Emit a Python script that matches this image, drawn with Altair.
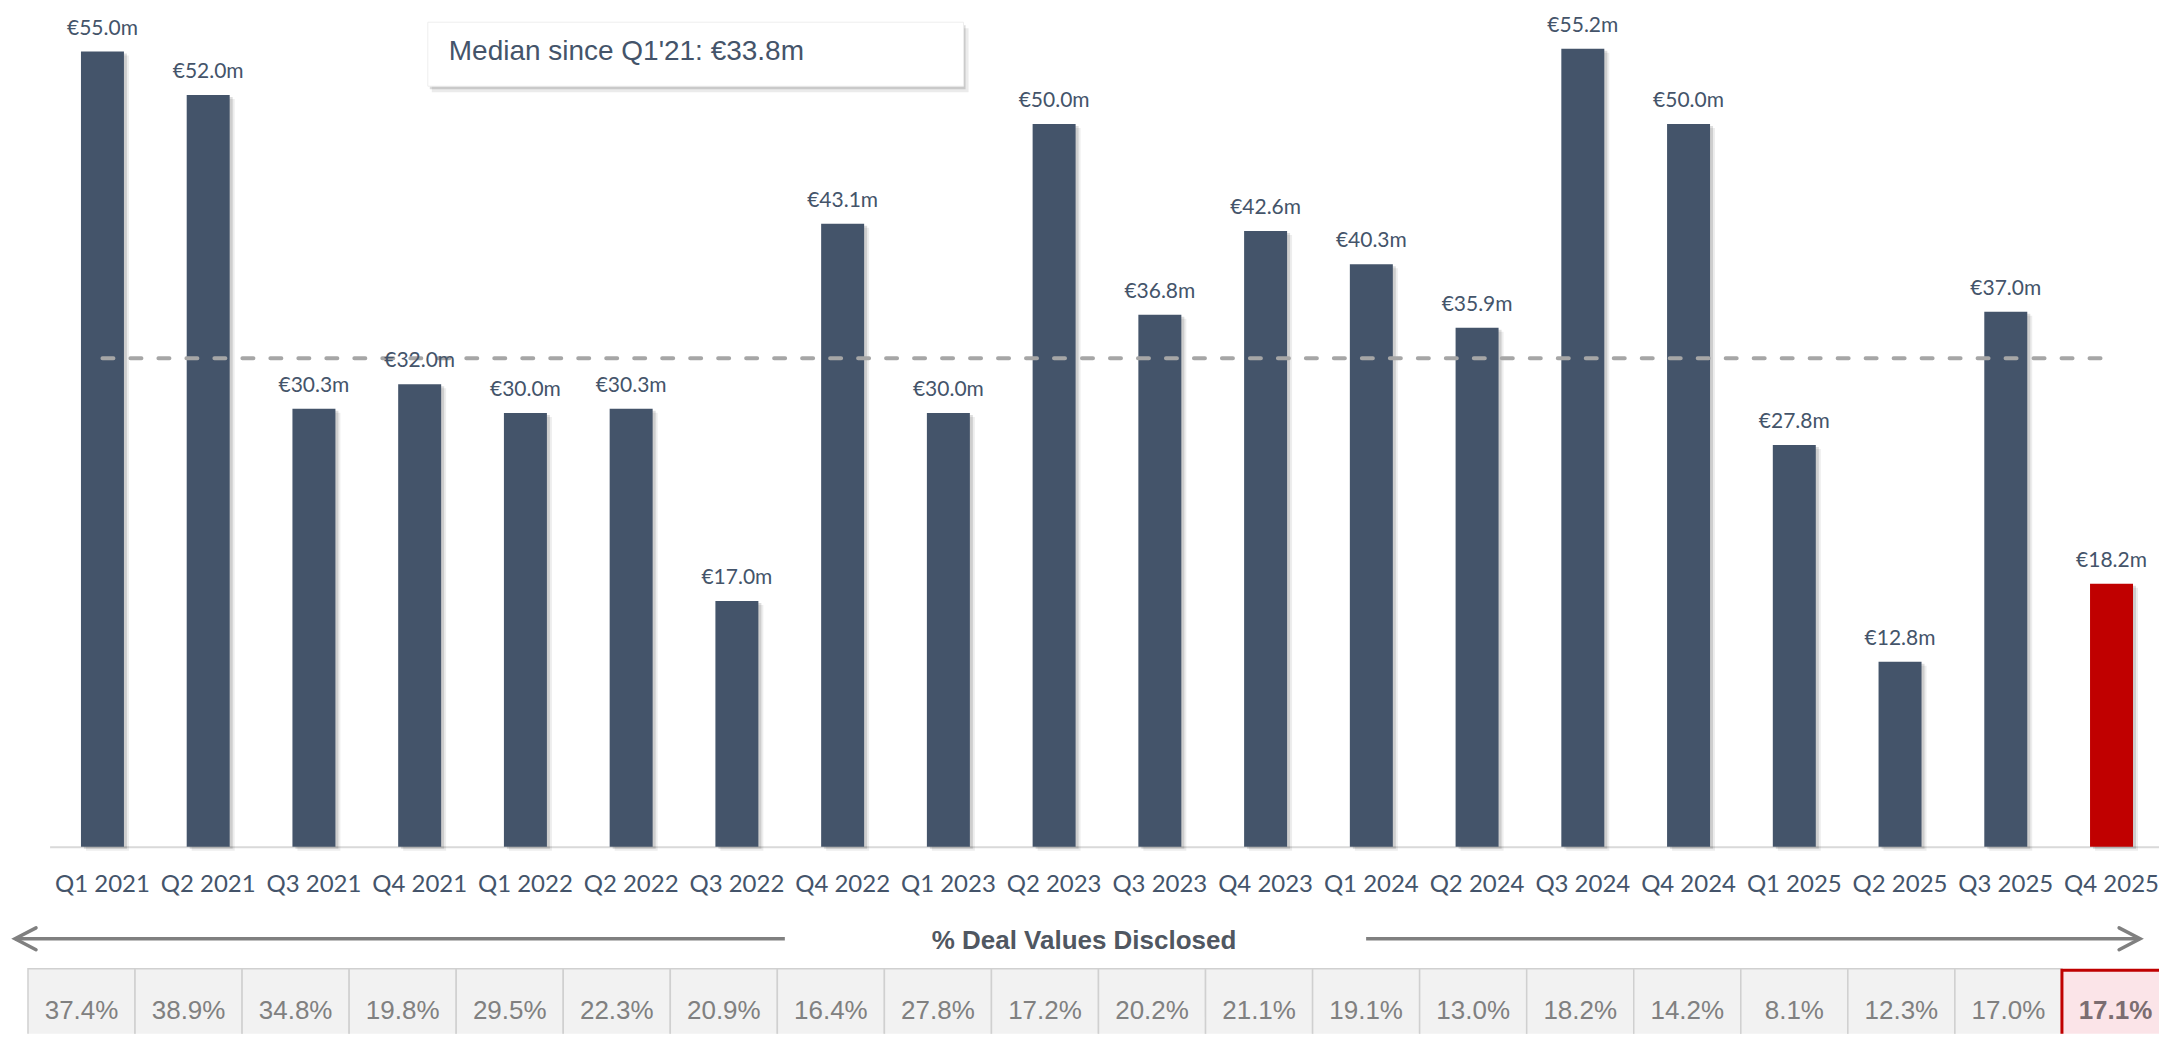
import altair as alt
import pandas as pd

# ---------------- data ----------------
quarters = ["Q1 2021", "Q2 2021", "Q3 2021", "Q4 2021", "Q1 2022", "Q2 2022", "Q3 2022",
            "Q4 2022", "Q1 2023", "Q2 2023", "Q3 2023", "Q4 2023", "Q1 2024", "Q2 2024",
            "Q3 2024", "Q4 2024", "Q1 2025", "Q2 2025", "Q3 2025", "Q4 2025"]
deal_values = [55.0, 52.0, 30.3, 32.0, 30.0, 30.3, 17.0, 43.1, 30.0, 50.0,
               36.8, 42.6, 40.3, 35.9, 55.2, 50.0, 27.8, 12.8, 37.0, 18.2]
pct_disclosed = [37.4, 38.9, 34.8, 19.8, 29.5, 22.3, 20.9, 16.4, 27.8, 17.2,
                 20.2, 21.1, 19.1, 13.0, 18.2, 14.2, 8.1, 12.3, 17.0, 17.1]
median_value = 33.8
median_text = "Median since Q1'21: €33.8m"
table_title = "% Deal Values Disclosed"
highlight_quarter = "Q4 2025"

# ---------------- layout / style ----------------
W, H = 2151, 1026        # plot area (page minus margins)
BASE = 839               # pixel row of value 0
NAVY = "#44546a"
RED = "#c00000"

df = pd.DataFrame({"quarter": quarters, "value": deal_values, "pct": pct_disclosed})
df["idx"] = range(len(df))
df["idx2"] = df["idx"] + 1
df["mid"] = df["idx"] + 0.5
df["label"] = df["value"].map(lambda v: f"€{v:.1f}m")
df["pct_label"] = df["pct"].map(lambda v: f"{v:.1f}%")
df["hl"] = df["quarter"] == highlight_quarter

median_df = pd.DataFrame({"start": [quarters[0]], "end": [quarters[-1]], "value": [median_value]})

bar_scale = alt.Scale(type="band", domain=quarters, range=[40.6, W],
                      paddingInner=0.151, paddingOuter=0.05, align=0.755)
bar_axis = alt.Axis(title=None, orient="bottom", offset=-(H - BASE), ticks=False, tickSize=0,
                    domainColor="#d9d9d9", domainWidth=2, labelFont="Lato", labelFontSize=24,
                    labelColor=NAVY, labelPadding=26, labelAngle=0, grid=False,
                    labelOverlap=False, labelFlush=False)
y_scale = alt.Scale(domain=[0, 58], range=[BASE, 0], nice=False, zero=True)


def xq(field="quarter"):
    return alt.X(f"{field}:N", scale=bar_scale, axis=bar_axis, sort=quarters)


def yv():
    return alt.Y("value:Q", scale=y_scale, axis=None)


base = alt.Chart(df)

shadow_far = base.mark_bar(width=43, color="#000000", opacity=0.07, xOffset=5, yOffset=4).encode(
    x=xq(), y=yv())
shadow = base.mark_bar(width=43, color="#000000", opacity=0.13, xOffset=3, yOffset=2).encode(
    x=xq(), y=yv())
bars = base.mark_bar(width=43).encode(
    x=xq(), y=yv(),
    color=alt.condition("datum.hl", alt.value(RED), alt.value(NAVY)))
labels = base.mark_text(font="Lato", fontSize=21, color=NAVY, baseline="alphabetic",
                        align="center", dy=-17).encode(x=xq(), y=yv(), text="label:N")
median_rule = alt.Chart(median_df).mark_rule(
    strokeDash=[11, 17], strokeWidth=4, strokeCap="round", color="#a6a6a6").encode(
    x=alt.X("start:N", scale=bar_scale, axis=bar_axis, sort=quarters, bandPosition=0.5),
    x2="end:N", y=yv())

bar_group = alt.layer(shadow_far, shadow, bars, median_rule, labels)

# ---------------- table ----------------
t_scale = alt.Scale(domain=[0, 20], range=[19, 2161], nice=False, zero=False)


def xt(field):
    return alt.X(f"{field}:Q", scale=t_scale, axis=None)


cells = base.mark_rect(clip=True, stroke="#d0d0d0", strokeWidth=1.5, fill="#f2f2f2").encode(
    x=xt("idx"), x2="idx2:Q", y=alt.value(961), y2=alt.value(1060)
).transform_filter("!datum.hl")
hl_cell = base.mark_rect(clip=True, stroke=RED, strokeWidth=3, fill="#fbe4e8").encode(
    x=xt("idx"), x2="idx2:Q", y=alt.value(962.5), y2=alt.value(1060)
).transform_filter("datum.hl")
cell_text = base.mark_text(font="Liberation Sans", fontSize=26, color="#808080",
                           baseline="middle", align="center").encode(
    x=xt("mid"), y=alt.value(1003.5), text="pct_label:N").transform_filter("!datum.hl")
hl_text = base.mark_text(font="Liberation Sans", fontSize=26, fontWeight="bold",
                         color="#7b6d71", baseline="middle", align="center").encode(
    x=xt("mid"), y=alt.value(1003.5), text="pct_label:N").transform_filter("datum.hl")

arrow_df = pd.DataFrame({"x0": [-0.121, 12.5], "x1": [7.07, 19.73]})
arrow_lines = alt.Chart(arrow_df).mark_rule(strokeWidth=3.5, color="#808080").encode(
    x=xt("x0"), x2="x1:Q", y=alt.value(931))
left_head = alt.Chart(pd.DataFrame({"x": [-0.121]})).mark_point(
    shape="M1,-0.52L0,0L1,0.52", size=1764, filled=False, strokeWidth=3.5,
    color="#808080", opacity=1, strokeCap="round", strokeJoin="miter").encode(
    x=xt("x"), y=alt.value(931))
right_head = alt.Chart(pd.DataFrame({"x": [19.73]})).mark_point(
    shape="M-1,-0.52L0,0L-1,0.52", size=1764, filled=False, strokeWidth=3.5,
    color="#808080", opacity=1, strokeCap="round", strokeJoin="miter").encode(
    x=xt("x"), y=alt.value(931))

title_df = pd.DataFrame({"t": [table_title]})
title_text = alt.Chart(title_df).mark_text(
    font="Liberation Sans", fontSize=26, fontWeight="bold", color="#505761",
    baseline="middle", align="center").encode(
    x=alt.value(1075.5), y=alt.value(933), text="t:N")

table_group = alt.layer(cells, hl_cell, cell_text, hl_text, arrow_lines, left_head,
                        right_head, title_text)

# ---------------- median box ----------------
box_df = pd.DataFrame({"t": [median_text]})
box_shadow2 = alt.Chart(box_df).mark_rect(color="#000000", opacity=0.08).encode(
    x=alt.value(423), x2=alt.value(960), y=alt.value(20), y2=alt.value(84))
box_shadow1 = alt.Chart(box_df).mark_rect(color="#000000", opacity=0.14).encode(
    x=alt.value(421), x2=alt.value(957), y=alt.value(17), y2=alt.value(81))
box = alt.Chart(box_df).mark_rect(fill="#ffffff", stroke="#eeeeee", strokeWidth=1).encode(
    x=alt.value(419), x2=alt.value(955), y=alt.value(14), y2=alt.value(78))
box_text = alt.Chart(box_df).mark_text(
    font="Liberation Sans", fontSize=28, color=NAVY, baseline="middle", align="left").encode(
    x=alt.value(440), y=alt.value(43.6), text="t:N")

box_group = alt.layer(box_shadow2, box_shadow1, box, box_text)

chart = alt.layer(bar_group, table_group, box_group).resolve_scale(
    x="independent", y="independent"
).properties(width=W, height=H, padding=0, background="#ffffff").configure_view(strokeWidth=0)

chart.save("out.html", embed_options={"renderer": "svg", "actions": False})
